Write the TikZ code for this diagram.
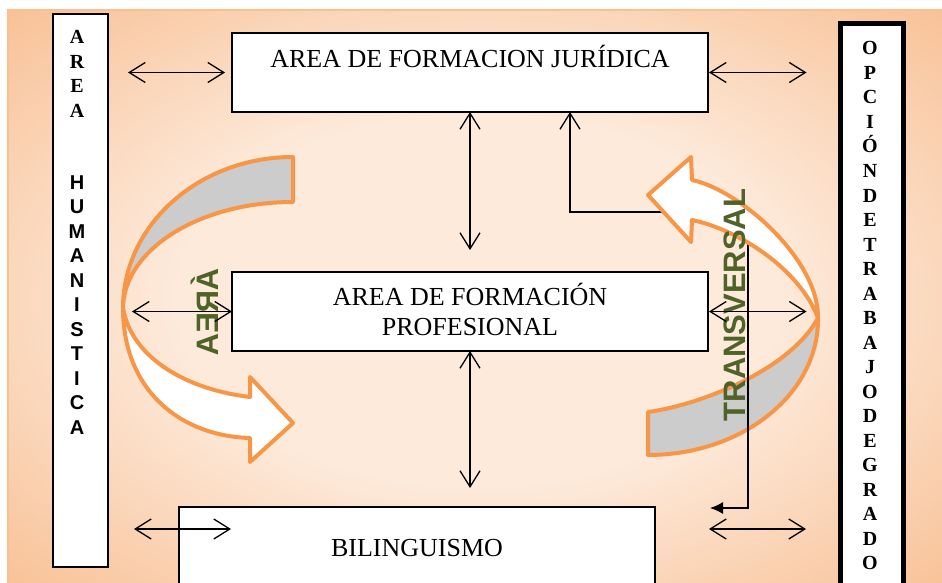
\documentclass[tikz,border=0pt]{standalone}
\usepackage{fontspec}
\setmainfont{Liberation Serif}
\setsansfont{Liberation Sans}
\usetikzlibrary{arrows.meta}
\definecolor{naranja}{RGB}{247,150,70}
\definecolor{gris}{RGB}{204,204,204}
\definecolor{verde}{RGB}{79,98,40}
\definecolor{bgclaro}{RGB}{253,234,219}
\definecolor{bgoscuro}{RGB}{248,192,148}
\definecolor{bgborde}{RGB}{250,192,144}
\pgfdeclareradialshading{fondo}{\pgfpoint{0bp}{0bp}}{color(0bp)=(bgclaro); color(16bp)=(bgclaro); color(36bp)=(bgoscuro); color(50bp)=(bgoscuro)}

\begin{document}
\begin{tikzpicture}[x=1pt, y=-1pt,
    >={Straight Barb[length=16pt,width=20pt]},
    caja/.style={draw, fill=white, line width=1.5pt, outer sep=0pt, inner sep=0pt},
    texto/.style={font=\fontsize{26}{30}\selectfont, align=center},
    flecha/.style={<->, line width=1.3pt},
    cinta/.style={draw=naranja, line width=4pt, line join=round},
    letra/.style={font=\fontsize{20}{24}\selectfont\bfseries, anchor=base, inner sep=0pt},
    vertical/.style={font=\fontsize{31}{36}\selectfont\sffamily\bfseries, text=verde, inner sep=0pt, text height=22pt, text depth=0pt}]

    \useasboundingbox (0,0) rectangle (942,583);
    \shadedraw[shading=fondo, draw=bgborde, line width=1.5pt] (8,10) rectangle (948,590);

    % cajas
    \node[caja, minimum width=55pt, minimum height=553pt] (humanistica) at (80.5,290.5) {};
    \node[caja, line width=5pt, minimum width=63pt, minimum height=580pt] (opcion) at (872,313.5) {};
    \node[caja, texto, minimum width=476pt, minimum height=79pt, text height=18pt, text depth=27pt] (juridica) at (470,72.5) {AREA DE FORMACION JURÍDICA};
    \node[caja, texto, minimum width=476pt, minimum height=79pt, text height=48pt, text depth=1pt] (profesional) at (470,311.5) {AREA DE FORMACIÓN\\PROFESIONAL};
    \node[caja, texto, minimum width=476pt, minimum height=93pt, text height=19pt, text depth=14pt] (bilinguismo) at (417,553.5) {BILINGUISMO};

    % letras verticales
    \foreach \l [count=\i from 0] in {A,R,E,A}
    \node[letra] (area\i) at (77,44+24.5*\i) {\l};
    \foreach \l [count=\i from 0] in {H,U,M,A,N,I,S,T,I,C,A}
    \node[letra, font=\fontsize{20}{24}\selectfont\sffamily\bfseries] (hum\i) at (77,189+24.5*\i) {\l};
    \foreach \l [count=\i from 0] in {O,P,C,I,Ó,N,D,E,T,R,A,B,A,J,O,D,E,G,R,A,D,O}
    \node[letra] (opc\i) at (870,55+24.5*\i) {\l};

    % cintas, parte de atras
    \path[cinta, fill=gris] (293,157) .. controls (199,157) and (123,225) .. (123,308)
    .. controls (124,249) and (200,202) .. (293,202) -- cycle;
    \path[cinta, fill=gris] (648,412) .. controls (700,405) and (790,370) .. (818,318)
    .. controls (819,394) and (742,455) .. (648,455) -- cycle;

    % conector en codo
    \coordinate (codo) at (748,212);
    \coordinate (codofin) at (710,508);
    \draw[line width=1.3pt, {Straight Barb[length=16pt,width=20pt]}-{Latex[length=13pt,width=12pt]}]
    ([xshift=100pt]juridica.south) |- (codo) |- (codofin);

    % cintas, parte de adelante
    \path[cinta, fill=white] (123,308) .. controls (132,360) and (190,390) .. (250,397)
    -- (250,377) -- (293,423) -- (250,462) -- (250,438)
    .. controls (180,436) and (123,390) .. (123,308) -- cycle;
    \path[cinta, fill=white] (818,318) .. controls (800,270) and (740,230) .. (692,220)
    -- (691,242) -- (648,195) -- (691,157) -- (692,180)
    .. controls (740,190) and (819,260) .. (818,318) -- cycle;

    \node[vertical, rotate=90, xscale=-1] (areaverde) at (207.5,312) {ÁREA};
    \node[vertical, rotate=90] (transversal) at (734.5,305) {TRANSVERSAL};

    % flechas dobles
    \coordinate (bilizq) at (134,529);
    \coordinate (bilizqfin) at (231,529);
    \coordinate (bilder) at (709,529);
    \coordinate (bilderfin) at (806,529);
    \draw[flecha] ([xshift=20pt]juridica.west -| humanistica.east) -- ([xshift=-7pt]juridica.west);
    \draw[flecha] ([xshift=1pt]juridica.east) -- ([xshift=-34pt]juridica.east -| opcion.west);
    \draw[flecha] (juridica.south) -- ([yshift=22pt]profesional.north);
    \draw[flecha] ([xshift=24pt]profesional.west -| humanistica.east) -- (profesional.west);
    \draw[flecha] ([xshift=1pt]profesional.east) -- ([xshift=-34pt]profesional.east -| opcion.west);
    \draw[flecha] (profesional.south) -- ([yshift=19pt]profesional.south |- bilinguismo.north);
    \draw[flecha] (bilizq) -- (bilizqfin);
    \draw[flecha] (bilder) -- (bilderfin);

\end{tikzpicture}
\end{document}
